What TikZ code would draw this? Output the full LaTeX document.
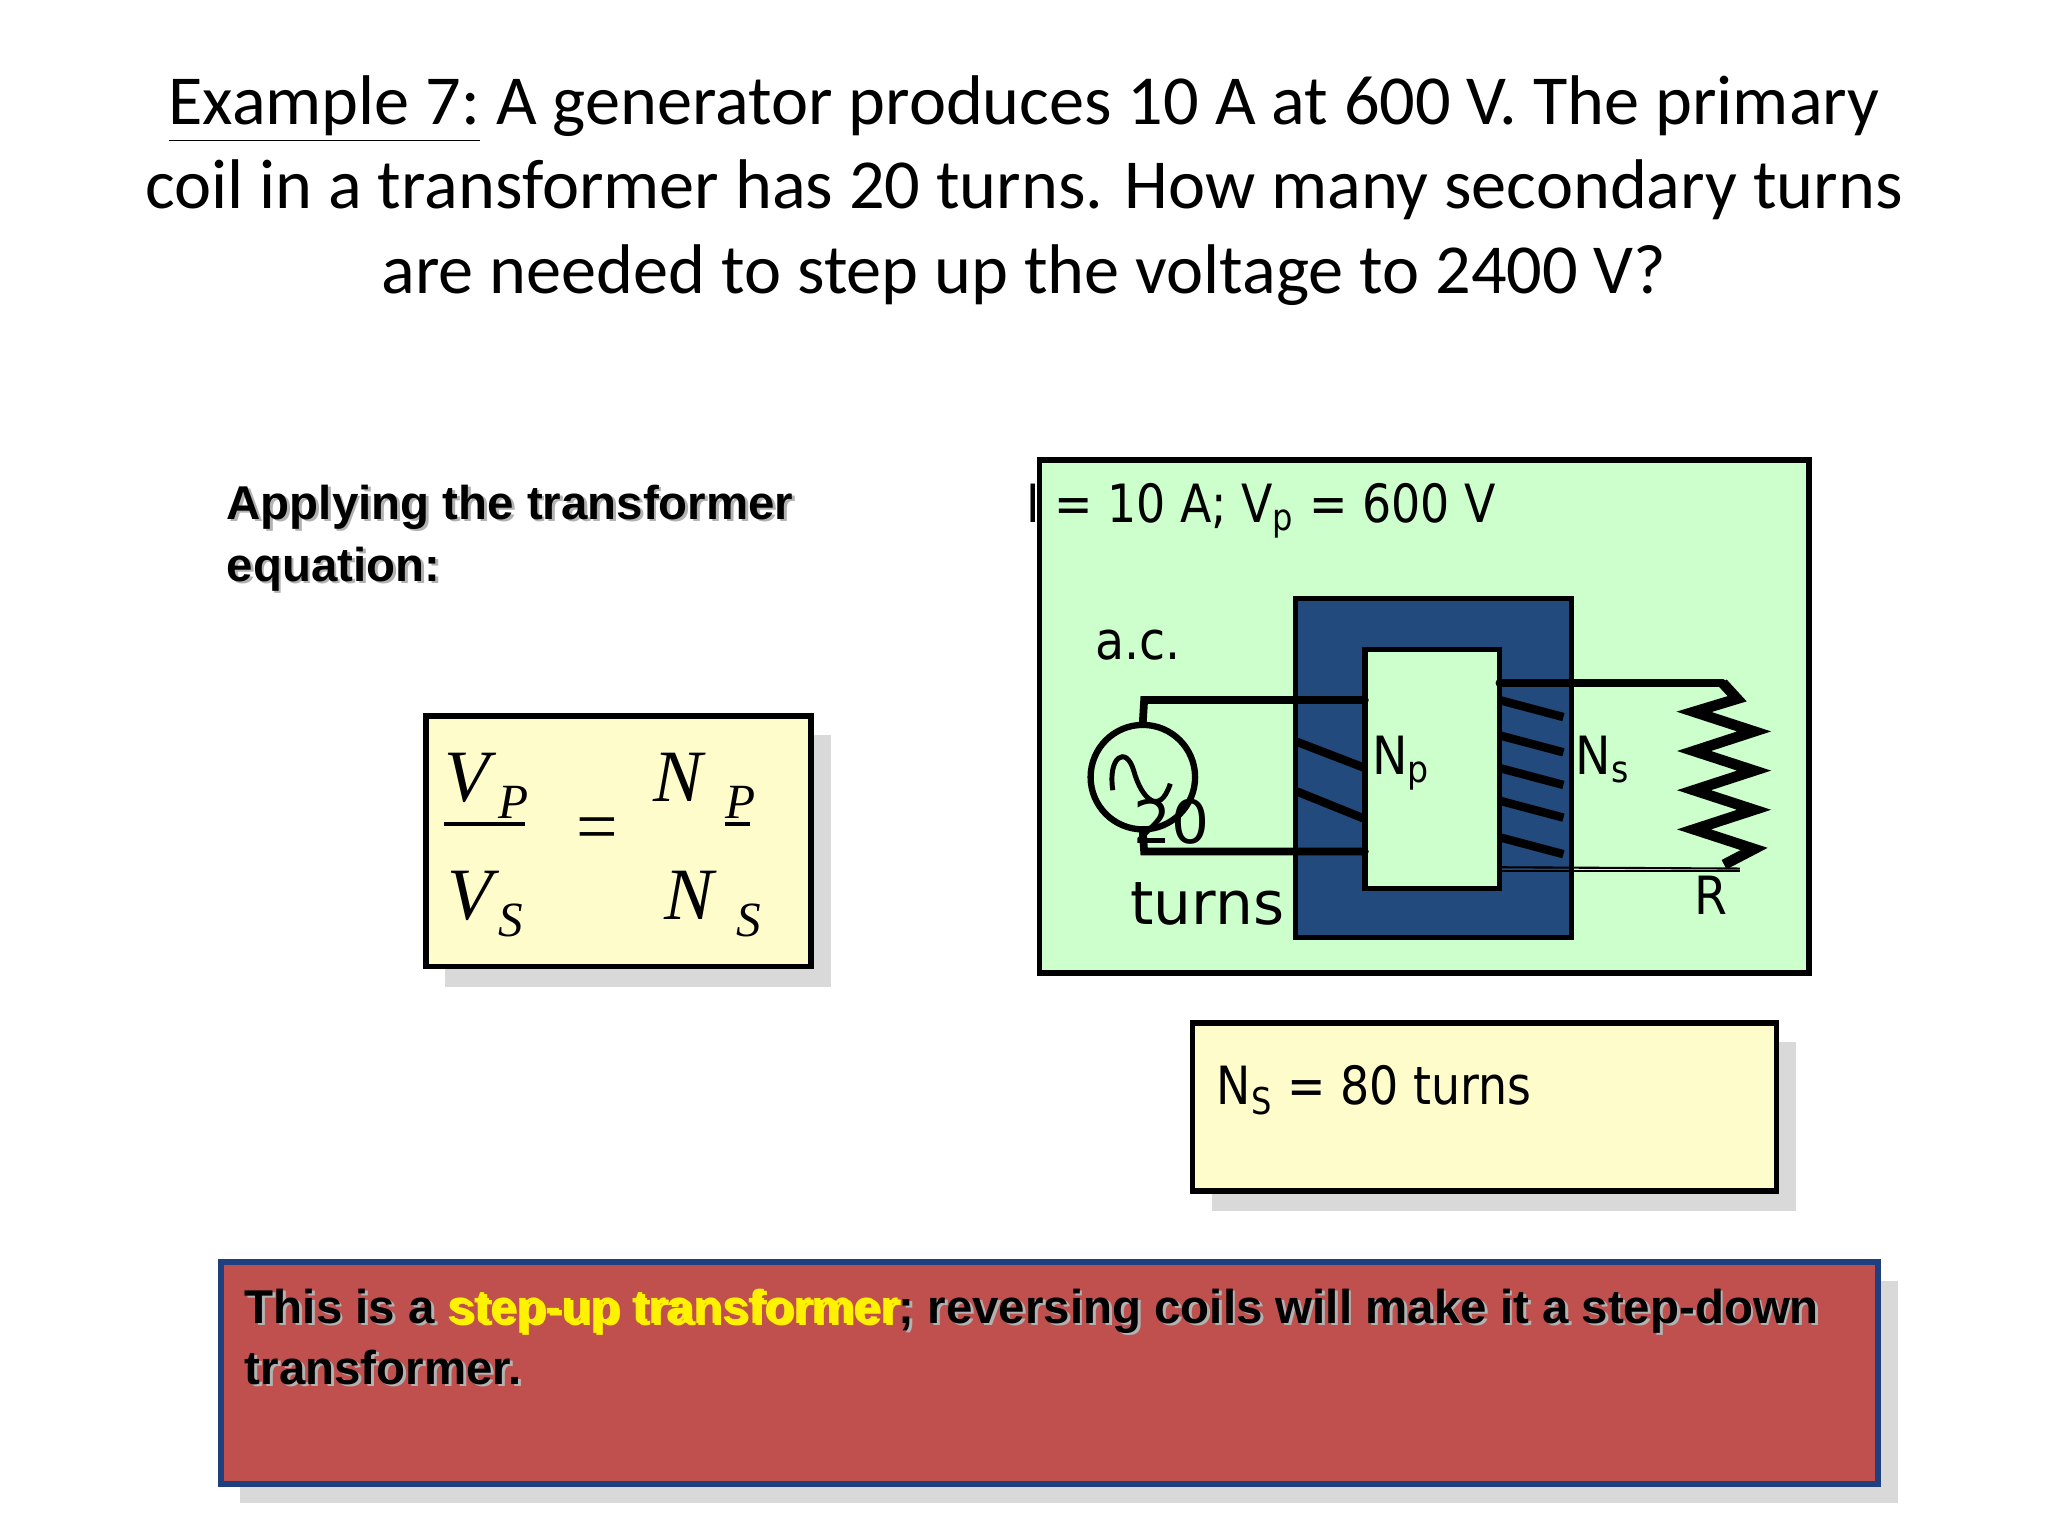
\documentclass[tikz,border=0pt]{standalone}
\usepackage{fontspec}
\setmainfont{Carlito}
\newfontfamily\verd{DejaVu Sans}
\newfontfamily\arl{Liberation Sans}
\newfontfamily\tms{Liberation Serif}
\newcommand{\shtext}[1]{\makebox[0pt][l]{\raisebox{-0.6pt}{\hspace{0.8pt}\color{gray!60}#1}}{#1}}
\begin{document}
\begin{tikzpicture}[x=0.013061cm,y=-0.013061cm,
  box/.style={draw=black,line width=1.6pt},
  shadowbox/.style={fill=black!15,draw=none},
  wire/.style={line width=2.2pt,line cap=round},
  coil/.style={line width=2.4pt},
  txt/.style={inner sep=0pt,anchor=base west},
  ttl/.style={inner sep=0pt,anchor=base,font=\fontsize{20}{24}\selectfont},
  bold/.style={txt,font=\arl\bfseries\fontsize{13.5}{17.5}\selectfont}]
\useasboundingbox (0,0) rectangle (1568,1176);
\fill[white] (0,0) rectangle (1568,1176);
% title
\node[ttl] (title1) at (784,95) {\underline{Example 7:} A generator produces 10 A at 600 V. The primary};
\node[ttl] (title2) at (784,160) {coil in a transformer has 20 turns. How many secondary turns};
\node[ttl] (title3) at (784,225) {are needed to step up the voltage to 2400 V?};
% applying
\node[bold] (apply1) at (173,398) {\shtext{Applying the transformer}};
\node[bold] (apply2) at (173,445) {\shtext{equation:}};
% equation box
\fill[shadowbox] (341,563) rectangle (636,756);
\draw[box,fill=yellow!20] (326,548) rectangle (621,740);
\node[txt,font=\tms\itshape\fontsize{21}{21}\selectfont] (vp) at (340,614) {V};
\node[txt,font=\tms\itshape\fontsize{14}{14}\selectfont] (vpsub) at (381,627) {P};
\draw[line width=1.2pt] (340,631) -- (402,631);
\node[txt,font=\tms\itshape\fontsize{21}{21}\selectfont] (vs) at (342,704) {V};
\node[txt,font=\tms\itshape\fontsize{14}{14}\selectfont] (vssub) at (381,717) {S};
\node[txt,font=\tms\fontsize{21}{21}\selectfont] (eq) at (441,652) {=};
\node[txt,font=\tms\itshape\fontsize{21}{21}\selectfont] (np) at (500,614) {N};
\node[txt,font=\tms\itshape\fontsize{14}{14}\selectfont] (npsub) at (555,627) {P};
\draw[line width=1pt] (555,631) -- (574,631);
\node[txt,font=\tms\itshape\fontsize{21}{21}\selectfont] (ns) at (508,704) {N};
\node[txt,font=\tms\itshape\fontsize{14}{14}\selectfont] (nssub) at (563,717) {S};
% green box
\draw[box,fill=green!20] (796,352) rectangle (1385,745);
\node[txt,font=\verd\fontsize{15}{15}\selectfont] (given) at (785,400)
 {\scalebox{0.87}[1]{I = 10 A; V\textsubscript{p} = 600 V}};
\node[txt,font=\verd\fontsize{15}{15}\selectfont] (ac) at (838,505) {\scalebox{0.9}[1]{a.c.}};
% core
\draw[line width=1.5pt,fill={rgb,255:red,35;green,74;blue,125}] (992,458) rectangle (1203,718);
\draw[line width=1.5pt,fill=green!20] (1045,497) rectangle (1148,680);
% primary
\coordinate (ptl) at (876,536);
\coordinate (pbl) at (876,652);
\node[circle,draw,line width=1.8pt,minimum size=1.045cm,inner sep=0pt] (src) at (875,595) {};
\draw[wire] (1045,536) -- (ptl) -- (src.north);
\draw[wire] (src.south) -- (pbl) -- (1045,652);
\draw[line width=1.4pt] (852,605) .. controls (848,580) and (862,570) .. (868,590)
  .. controls (874,612) and (888,625) .. (896,600);
\draw[coil] (993,568) -- (1045,588);
\draw[coil] (993,606) -- (1045,627);
% secondary
\foreach \yy in {536,563,588,613,641}
  \draw[coil] (1148,\yy) -- (1197,\yy+13);
\coordinate (str) at (1319,523);
\coordinate (sbr) at (1332,665);
\draw[wire] (1148,523) -- (str);
\draw[line width=0.6pt] (1148,664) -- (sbr);
\draw[line width=0.6pt] (1148,667) -- (sbr|-0,667);
\draw[line width=3pt,line join=miter] (str) -- (1330,535) -- (1297,545) -- (1343,560) -- (1297,575) -- (1343,590)
 -- (1297,605) -- (1343,620) -- (1297,635) -- (1343,650) -- (1320,662);
\node[txt,font=\verd\fontsize{15}{15}\selectfont] (nplab) at (1050,593) {\scalebox{0.9}[1]{N\textsubscript{p}}};
\node[txt,font=\verd\fontsize{15}{15}\selectfont] (nslab) at (1206,593) {\scalebox{0.9}[1]{N\textsubscript{s}}};
\node[txt,font=\verd\fontsize{15}{15}\selectfont] (rlab) at (1297,700) {\scalebox{0.9}[1]{R}};
\node[txt,font=\verd\fontsize{17}{17}\selectfont] (twenty) at (867,646) {20};
\node[txt,font=\verd\fontsize{17}{17}\selectfont] (turns) at (865,708) {turns};
% answer box
\fill[shadowbox] (928,798) rectangle (1375,927);
\draw[box,fill=yellow!20] (913,783) rectangle (1360,912);
\node[txt,font=\verd\fontsize{15}{15}\selectfont] (ans) at (931,846) {\scalebox{0.87}[1]{N\textsubscript{S} = 80 turns}};
% bottom box
\fill[shadowbox] (184,981) rectangle (1453,1151);
\draw[line width=1.6pt,draw={rgb,255:red,31;green,63;blue,127},fill={rgb,255:red,192;green,80;blue,77}] (169,966) rectangle (1438,1136);
\node[bold] (note1) at (187,1013)
 {\shtext{This is a }\shtext{\color{yellow}step-up transformer}\shtext{; reversing coils will make it a step-down}};
\node[bold] (note2) at (187,1060) {\shtext{transformer.}};
\end{tikzpicture}
\end{document}
